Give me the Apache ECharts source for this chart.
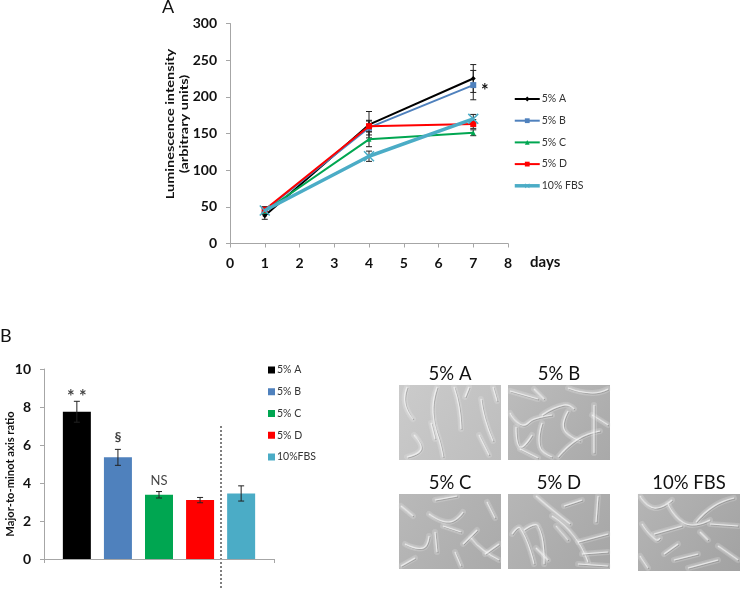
<!DOCTYPE html>
<html><head><meta charset="utf-8">
<style>html,body{margin:0;padding:0;background:#fff}#c{width:740px;height:590px}</style>
<script src="https://cdn.jsdelivr.net/npm/echarts@6/dist/echarts.min.js"></script>
</head><body><div id="c"></div>
<script>
const days = [1, 4, 7];
const seriesNames = ['5% A', '5% B', '5% C', '5% D', '10% FBS'];
const valA = [38, 162, 225];
const errA = [5, 18, 19];
const valB = [45, 158, 216];
const errB = [5, 10, 20];
const valC = [44, 142, 151];
const errC = [4, 10, 4];
const valD = [46, 160, 163];
const errD = [4, 7, 6];
const valF = [45, 119, 170];
const errF = [4, 7, 6];
const colors = ['#000000', '#4f81bd', '#00a651', '#ff0000', '#4bacc6'];

const barNames = ['5% A', '5% B', '5% C', '5% D', '10%FBS'];
const barX = [0.8, 1.8, 2.8, 3.8, 4.8];
const barVals = [7.75, 5.35, 3.38, 3.1, 3.45];
const barErrs = [0.55, 0.42, 0.17, 0.14, 0.4];
const barNotes = ['* *', '§', 'NS', '', ''];

const FONT = 'Lato, "Open Sans", sans-serif';
const AXIS = '#a6a6a6';

const errRender = (params, api) => {
  const c = api.coord([api.value(0), api.value(1)]);
  const t = api.coord([api.value(0), api.value(2)]);
  const w = 3;
  const s = {stroke: '#222', lineWidth: 1};
  return {type: 'group', silent: true, children: [
    {type: 'line', shape: {x1: c[0], y1: c[1], x2: t[0], y2: t[1]}, style: s},
    {type: 'line', shape: {x1: c[0]-w, y1: c[1], x2: c[0]+w, y2: c[1]}, style: s},
    {type: 'line', shape: {x1: t[0]-w, y1: t[1], x2: t[0]+w, y2: t[1]}, style: s}
  ]};
};

const xMark = 'path://M1 0L5 4L9 0L10 1L6 5L10 9L9 10L5 6L1 10L0 9L4 5L0 1Z';
const lineSets = [
  {v: valA, e: errA, sym: 'diamond', size: 5, w: 2},
  {v: valB, e: errB, sym: 'rect', size: 6, w: 2},
  {v: valC, e: errC, sym: 'triangle', size: 5, w: 2},
  {v: valD, e: errD, sym: 'rect', size: 6, w: 2},
  {v: valF, e: errF, sym: xMark, size: 11, w: 3.5}
];
const series = [];
lineSets.forEach((s, i) => {
  series.push({
    type: 'custom', name: 'err' + i, xAxisIndex: 0, yAxisIndex: 0, z: 1,
    renderItem: errRender, encode: {x: 0, y: [1, 2]},
    data: days.map((d, k) => [d, s.v[k] - s.e[k], s.v[k] + s.e[k]])
  });
});
lineSets.forEach((s, i) => {
  series.push({
    type: 'line', name: seriesNames[i], xAxisIndex: 0, yAxisIndex: 0, z: 3 + i,
    data: days.map((d, k) => [d, s.v[k]]),
    symbol: s.sym, symbolSize: s.size, showSymbol: true,
    lineStyle: {color: colors[i], width: s.w},
    itemStyle: {color: colors[i]}, animation: false
  });
});
barNames.forEach((n, i) => {
  series.push({
    type: 'bar', name: n, xAxisIndex: 1, yAxisIndex: 1, barWidth: 28, barGap: '-100%',
    itemStyle: {color: colors[i]}, z: 2,
    data: [{value: [barX[i], barVals[i]]}],
    animation: false
  });
});
series.push({
  type: 'custom', name: 'barErr', xAxisIndex: 1, yAxisIndex: 1, z: 4,
  renderItem: errRender, encode: {x: 0, y: [1, 2]},
  data: barX.map((x, i) => [x, barVals[i] - barErrs[i], barVals[i] + barErrs[i]])
});
const noteDist = [-5, 5, 4, 0, 0];
const noteSize = [18, 14, 13, 12, 12];
series.push({
  type: 'scatter', name: 'notes', xAxisIndex: 1, yAxisIndex: 1, symbolSize: 0, z: 5,
  data: barX.map((x, i) => ({
    value: [x, barVals[i] + barErrs[i]],
    label: {show: !!barNotes[i], position: 'top', distance: noteDist[i], formatter: barNotes[i],
      color: '#111', fontFamily: FONT, fontSize: noteSize[i], fontWeight: i < 2 ? 'bold' : 'normal'}
  }))
});

// Photomicrograph panels, approximated by streaks (panel-local pixels)
const panels = [
  {t: '5% A', x: 399, y: 385, w: 102, h: 75, g: '#cbcbcb', g2: '#bdbdbd', s: [
    [[8,2],[6,18],[14,34]], [[38,2],[34,28],[42,62],[44,72]], [[55,2],[60,22],[62,44]], [[82,14],[86,34],[94,56]],
    [[94,2],[98,16]], [[15,50],[22,64],[8,72]], [[32,38],[36,54]], [[80,50],[90,70]], [[70,2],[66,12]]]},
  {t: '5% B', x: 508, y: 385, w: 102, h: 75, g: '#bcbcbc', g2: '#a9a9a9', s: [
    [[2,6],[16,10],[30,14]], [[26,4],[36,14]], [[60,3],[84,8],[100,4]], [[2,28],[14,40],[26,34],[44,30]], [[34,30],[56,20],[66,24]],
    [[8,42],[12,62],[24,50]], [[34,38],[32,62],[44,72]], [[60,26],[56,44],[72,56]], [[50,72],[70,54],[92,46]], [[84,30],[100,40]], [[86,20],[86,68]], [[12,64],[30,73]]]},
  {t: '5% C', x: 399, y: 494, w: 102, h: 75, g: '#b9b9b9', g2: '#aaaaaa', s: [
    [[2,12],[14,22]], [[36,6],[58,2]], [[30,20],[50,28],[64,18]], [[88,8],[96,24]], [[44,32],[62,38]], [[64,50],[78,36]],
    [[72,44],[84,56],[100,66]], [[6,50],[24,54],[30,42]], [[36,38],[38,58]], [[56,58],[62,72]], [[2,72],[16,64]], [[86,60],[100,50]]]},
  {t: '5% D', x: 508, y: 494, w: 102, h: 75, g: '#b6b6b6', g2: '#a6a6a6', s: [
    [[28,2],[42,14],[62,30]], [[44,22],[66,42],[80,68]], [[4,40],[12,34],[26,70]], [[16,36],[30,32],[36,70]], [[56,12],[74,6]],
    [[90,2],[88,28]], [[70,48],[100,40]], [[74,60],[100,58]], [[70,70],[100,72]], [[28,54],[40,66]], [[48,32],[60,46]]]},
  {t: '10% FBS', x: 638, y: 494, w: 102, h: 77, g: '#b5b5b5', g2: '#a2a2a2', s: [
    [[2,2],[16,14],[34,6]], [[30,10],[48,30],[72,26]], [[58,28],[76,12],[96,4]], [[4,30],[18,46],[22,44]], [[16,40],[44,32]],
    [[26,60],[40,50]], [[36,66],[60,60]], [[80,52],[100,66]], [[2,62],[10,74]], [[72,30],[100,32]], [[50,74],[80,66]], [[70,46],[62,38]]]}
];
const graphics = [];
panels.forEach(p => {
  const kids = [{type: 'rect', shape: {x: 0, y: 0, width: p.w, height: p.h},
    style: {fill: new echarts.graphic.LinearGradient(0, 0, 1, 1, [{offset: 0, color: p.g}, {offset: 1, color: p.g2}])}}];
  p.s.forEach(pts => {
    kids.push({type: 'polyline', shape: {points: pts, smooth: 0.5},
      style: {stroke: 'rgba(235,235,235,0.22)', lineWidth: 6, lineCap: 'round', fill: 'none'}});
    kids.push({type: 'polyline', shape: {points: pts.map(q => [q[0] + 1, q[1] + 1]), smooth: 0.5},
      style: {stroke: 'rgba(90,90,90,0.45)', lineWidth: 1, fill: 'none'}});
    kids.push({type: 'polyline', shape: {points: pts, smooth: 0.5},
      style: {stroke: 'rgba(245,245,245,0.7)', lineWidth: 1.1, fill: 'none', shadowBlur: 2, shadowColor: '#fff'}});
  });
  graphics.push({type: 'group', x: p.x, y: p.y, children: kids, silent: true});
  graphics.push({type: 'text', x: p.x + p.w / 2, y: p.y - 11, silent: true,
    style: {text: p.t, fontFamily: FONT, fontSize: 18.5, fill: '#111', align: 'center', verticalAlign: 'middle'}});
});
const yTitle = {fontFamily: FONT, fontWeight: 'bold', fill: '#111', align: 'center', verticalAlign: 'middle'};
graphics.push(
  {type: 'text', x: 162, y: 7, style: {text: 'A', fontFamily: FONT, fontSize: 18, fill: '#111', verticalAlign: 'middle'}},
  {type: 'text', x: 0, y: 336, style: {text: 'B', fontFamily: FONT, fontSize: 18, fill: '#111', verticalAlign: 'middle'}},
  {type: 'text', x: 530, y: 262, style: {text: 'days', fontFamily: FONT, fontSize: 15, fontWeight: 'bold', fill: '#111', verticalAlign: 'middle'}},
  {type: 'text', x: 481, y: 91, style: {text: '*', fontFamily: FONT, fontSize: 18, fontWeight: 'bold', fill: '#111', verticalAlign: 'middle'}},
  {type: 'text', x: 171, y: 124, rotation: Math.PI / 2, scaleX: 1.38, style: {...yTitle, text: 'Luminescence intensity', fontSize: 10.5}},
  {type: 'text', x: 185, y: 124, rotation: Math.PI / 2, scaleX: 1.38, style: {...yTitle, text: '(arbitrary units)', fontSize: 10.5}},
  {type: 'text', x: 10, y: 474, rotation: Math.PI / 2, style: {...yTitle, text: 'Major-to-minot axis ratio', fontSize: 11.2}},
  {type: 'line', shape: {x1: 221, y1: 426, x2: 221, y2: 590}, style: {stroke: '#000', lineWidth: 1, lineDash: [2, 2]}}
);

const tickLabel = {color: '#111', fontFamily: FONT, fontWeight: 'bold', fontSize: 14};
const legendText = {color: '#333', fontFamily: FONT, fontSize: 10.5};
const chart = echarts.init(document.getElementById('c'));
chart.setOption({
  animation: false,
  grid: [
    {left: 230, top: 23.5, width: 278, height: 220},
    {left: 44, top: 369, width: 230, height: 190}
  ],
  xAxis: [
    {type: 'value', gridIndex: 0, min: 0, max: 8, interval: 1, splitLine: {show: false},
      axisLine: {lineStyle: {color: AXIS}}, axisTick: {show: true, length: 4, lineStyle: {color: AXIS}},
      axisLabel: {...tickLabel, margin: 13}},
    {type: 'value', gridIndex: 1, min: 0, max: 5.6, splitLine: {show: false},
      axisLine: {lineStyle: {color: AXIS}},
      axisTick: {show: true, length: 4, customValues: [0, 5.6], lineStyle: {color: AXIS}},
      axisLabel: {show: false}}
  ],
  yAxis: [
    {type: 'value', gridIndex: 0, min: 0, max: 300, interval: 50, splitLine: {show: false},
      axisLine: {show: true, lineStyle: {color: AXIS}}, axisTick: {show: true, length: 4, lineStyle: {color: AXIS}},
      axisLabel: {...tickLabel, margin: 13}},
    {type: 'value', gridIndex: 1, min: 0, max: 10, interval: 2, splitLine: {show: false},
      axisLine: {show: true, lineStyle: {color: AXIS}}, axisTick: {show: true, length: 4, lineStyle: {color: AXIS}},
      axisLabel: {...tickLabel, margin: 13}}
  ],
  legend: [
    {left: 513, top: 93, padding: 0, orient: 'vertical', itemWidth: 25, itemHeight: 6, itemGap: 9.7,
      lineStyle: {width: 'inherit'},
      data: seriesNames, textStyle: {...legendText, height: 12, lineHeight: 12, padding: [0, 0, 0, -3]}, selectedMode: false},
    {left: 268, top: 364, padding: 0, orient: 'vertical', itemWidth: 7, itemHeight: 7, itemGap: 9.75,
      icon: 'rect', data: barNames, textStyle: {...legendText, height: 12, lineHeight: 12, padding: [0, 0, 0, -3]}, selectedMode: false}
  ],
  series,
  graphic: graphics
});
</script></body></html>
